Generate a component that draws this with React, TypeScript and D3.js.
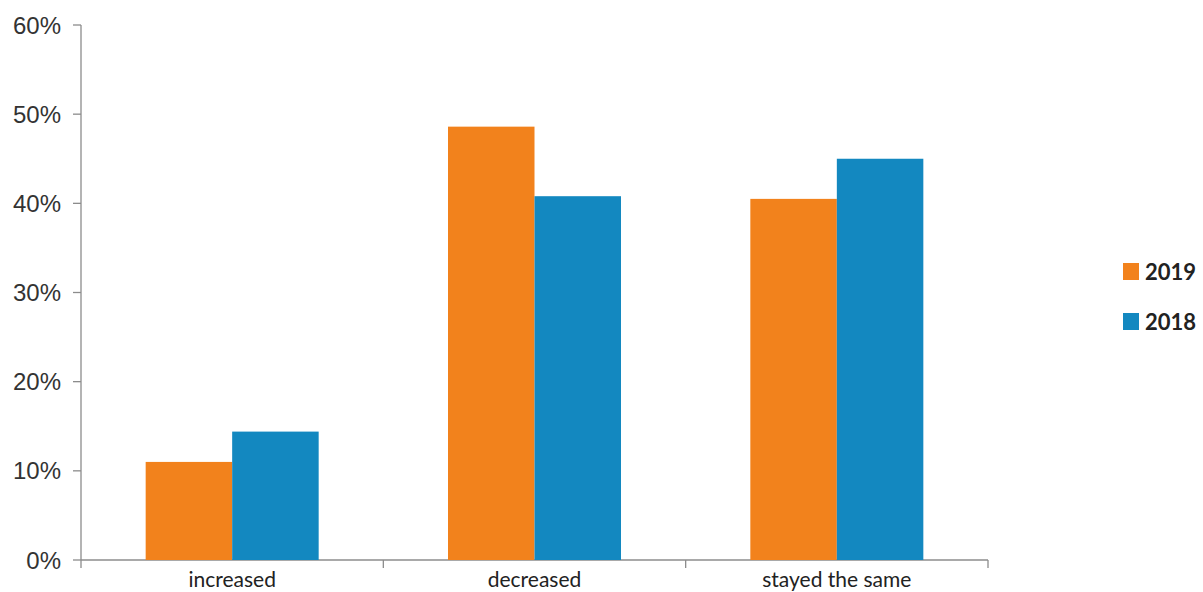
import React from "react";
import * as d3 from "d3";

const categories = ["increased", "decreased", "stayed the same"];
const seriesNames = ["2019", "2018"];
const values2019 = [11.0, 48.6, 40.5];
const values2018 = [14.4, 40.8, 45.0];
const yTicks = [0, 10, 20, 30, 40, 50, 60];
const colors = ["#F2821C", "#1388C0"];

export default function App() {
  const width = 1203;
  const height = 592;
  const x0 = 81, x1 = 988, yTop = 25, yBot = 560;
  const y = d3.scaleLinear().domain([0, 60]).range([yBot, yTop]);
  const x = d3.scaleBand().domain(categories).range([x0, x1]).paddingInner(0).paddingOuter(0);
  const groupW = 173;
  const xs = d3.scaleBand().domain(seriesNames).range([0, groupW]);
  const series = [values2019, values2018];
  return (
    <svg width={width} height={height} style={{ position: "absolute", left: 0, top: 0 }}>
      <rect width={width} height={height} fill="#fff" />
      {/* y axis */}
      <line x1={x0} x2={x0} y1={yTop} y2={yBot} stroke="#8c8c8c" strokeWidth={1.3} />
      {yTicks.map((t) => (
        <g key={t}>
          <line x1={x0 - 8} x2={x0} y1={y(t)} y2={y(t)} stroke="#8c8c8c" strokeWidth={1.3} />
          <text x={61} y={y(t)} dy="0.36em" textAnchor="end" fontFamily="Liberation Sans, Arial" fontSize={24} fill="#333">
            {t}%
          </text>
        </g>
      ))}
      {/* x axis */}
      <line x1={x0} x2={x1} y1={yBot} y2={yBot} stroke="#8c8c8c" strokeWidth={1.3} />
      {[...categories.map((c) => x(c)!), x1].map((v, i) => (
        <line key={i} x1={v} x2={v} y1={yBot} y2={yBot + 8} stroke="#8c8c8c" strokeWidth={1.3} />
      ))}
      {categories.map((c, i) => {
        const cx = x(c)! + x.bandwidth() / 2;
        return (
          <g key={c}>
            {series.map((s, j) => (
              <rect
                key={j}
                x={cx - groupW / 2 + xs(seriesNames[j])!}
                y={y(s[i])}
                width={xs.bandwidth()}
                height={yBot - y(s[i])}
                fill={colors[j]}
              />
            ))}
            <text x={cx} y={587} textAnchor="middle" fontFamily="Lato, Open Sans, sans-serif" fontSize={21} fill="#222">
              {c}
            </text>
          </g>
        );
      })}
      {/* legend */}
      {seriesNames.map((n, j) => (
        <g key={n}>
          <rect x={1123} y={263 + j * 50} width={16} height={17} fill={colors[j]} />
          <text x={1145} y={272 + j * 50} dy="0.36em" fontFamily="Lato, sans-serif" fontWeight="bold" fontSize={22} fill="#222">
            {n}
          </text>
        </g>
      ))}
    </svg>
  );
}
